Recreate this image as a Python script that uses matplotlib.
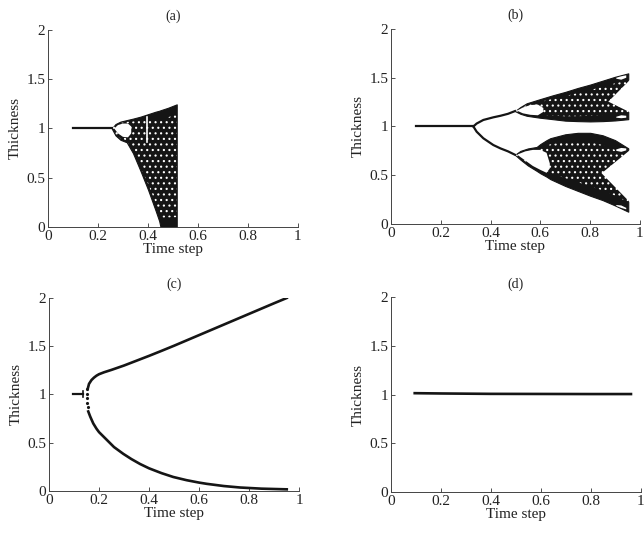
import numpy as np
import matplotlib
matplotlib.use("Agg")
import matplotlib.pyplot as plt

plt.rcParams["font.family"] = ["Liberation Serif", "DejaVu Serif"]
plt.rcParams["hatch.linewidth"] = 0.8

INK = "#151515"

# ---------------- (a) ----------------
a_fixed_x = [0.10, 0.255]
a_fixed_y = [1.0, 1.0]
a_band_x = [0.255, 0.27, 0.29, 0.315, 0.34, 0.37, 0.40, 0.43, 0.445, 0.45, 0.48, 0.515]
a_band_top = [1.0, 1.045, 1.07, 1.085, 1.10, 1.12, 1.145, 1.17, 1.18, 1.185, 1.21, 1.245]
a_band_bot = [1.0, 0.93, 0.885, 0.86, 0.75, 0.57, 0.38, 0.17, 0.06, 0.0, 0.0, 0.0]
a_hole_x = [0.265, 0.28, 0.30, 0.32, 0.333]
a_hole_top = [1.0, 1.035, 1.05, 1.05, 1.02]
a_hole_bot = [1.0, 0.95, 0.915, 0.91, 0.95]
a_window_x = [0.395, 0.395]
a_window_y = [0.86, 1.12]

# ---------------- (b) ----------------
b_fixed_x = [0.10, 0.331]
b_fixed_y = [1.0, 1.0]
b_p2_x = [0.331, 0.344, 0.371, 0.411, 0.44, 0.47, 0.498]
b_p2_up = [1.0, 1.03, 1.067, 1.094, 1.11, 1.13, 1.158]
b_p2_lo = [1.0, 0.947, 0.879, 0.81, 0.775, 0.745, 0.71]
b_up_x = [0.498, 0.52, 0.545, 0.598, 0.65, 0.70, 0.75, 0.80, 0.85, 0.90, 0.953]
b_up_top = [1.158, 1.20, 1.238, 1.28, 1.32, 1.355, 1.395, 1.43, 1.47, 1.51, 1.545]
b_up_bot = [1.158, 1.13, 1.11, 1.09, 1.075, 1.06, 1.055, 1.052, 1.055, 1.062, 1.075]
b_lo_x = [0.498, 0.52, 0.55, 0.585, 0.60, 0.625, 0.64, 0.70, 0.75, 0.80, 0.85, 0.90, 0.953]
b_lo_top = [0.71, 0.75, 0.775, 0.79, 0.82, 0.86, 0.88, 0.92, 0.935, 0.935, 0.91, 0.86, 0.776]
b_lo_bot = [0.71, 0.66, 0.60, 0.545, 0.52, 0.485, 0.46, 0.39, 0.34, 0.29, 0.245, 0.19, 0.126]
# white gaps inside the bands
b_up_bub_x = [0.508, 0.53, 0.56, 0.59, 0.612]
b_up_bub_top = [1.165, 1.195, 1.22, 1.225, 1.19]
b_up_bub_bot = [1.16, 1.135, 1.12, 1.115, 1.15]
b_lo_bub_x = [0.51, 0.54, 0.57, 0.60, 0.625, 0.638]
b_lo_bub_top = [0.715, 0.745, 0.76, 0.76, 0.73, 0.62]
b_lo_bub_bot = [0.705, 0.65, 0.595, 0.555, 0.525, 0.57]
b_up_notch_x = [0.873, 0.98, 0.98]
b_up_notch_y = [1.255, 1.53, 1.12]
b_lo_notch_x = [0.846, 0.98, 0.98]
b_lo_notch_y = [0.52, 0.80, 0.17]
b_tip_x = [0.905, 0.925, 0.945]
b_tip1_top = [1.50, 1.515, 1.525]
b_tip1_bot = [1.49, 1.48, 1.50]
b_tip2_top = [1.10, 1.115, 1.11]
b_tip2_bot = [1.09, 1.085, 1.09]
b_tip3_top = [0.765, 0.78, 0.775]
b_tip3_bot = [0.75, 0.74, 0.755]
b_tip4_top = [0.195, 0.19, 0.165]
b_tip4_bot = [0.185, 0.165, 0.15]

# ---------------- (c) ----------------
c_fixed_x = [0.097, 0.137]
c_fixed_y = [1.0, 1.0]
c_tick_x = [0.135, 0.135]
c_tick_y = [0.97, 1.04]
c_dots_x = [0.150, 0.150, 0.151, 0.152, 0.154]
c_dots_y = [1.06, 1.01, 0.96, 0.91, 0.87]
c_up_x = [0.155, 0.16, 0.17, 0.18, 0.19, 0.20, 0.22, 0.25, 0.30, 0.35, 0.40,
          0.45, 0.50, 0.60, 0.70, 0.80, 0.90, 0.951]
c_up_y = [1.06, 1.11, 1.15, 1.175, 1.195, 1.21, 1.23, 1.255, 1.30, 1.35, 1.40,
          1.452, 1.505, 1.615, 1.725, 1.835, 1.945, 2.0]
c_lo_x = [0.157, 0.165, 0.177, 0.19, 0.20, 0.231, 0.26, 0.297, 0.33, 0.364, 0.40,
          0.45, 0.497, 0.55, 0.60, 0.631, 0.70, 0.764, 0.85, 0.951]
c_lo_y = [0.824, 0.77, 0.70, 0.645, 0.61, 0.53, 0.455, 0.385, 0.33, 0.28, 0.235,
          0.185, 0.145, 0.112, 0.087, 0.074, 0.051, 0.036, 0.024, 0.017]

# ---------------- (d) ----------------
d_x = [0.095, 0.20, 0.40, 0.60, 0.80, 0.96]
d_y = [1.015, 1.012, 1.008, 1.007, 1.006, 1.006]

fig = plt.figure(figsize=(6.44, 5.37), dpi=100)
axes = {
    "(a)": fig.add_axes([0.0745, 0.5773, 0.3882, 0.3669]),
    "(b)": fig.add_axes([0.6071, 0.5829, 0.3866, 0.3631]),
    "(c)": fig.add_axes([0.0761, 0.0857, 0.3882, 0.3594]),
    "(d)": fig.add_axes([0.6071, 0.0838, 0.3882, 0.3626]),
}


def band(ax, x, top, bot, edge=0.15):
    # dense chaotic cloud: solid ink, white speckles away from the edges
    x, top, bot = np.array(x), np.array(top), np.array(bot)
    ax.fill_between(x, bot, top, facecolor=INK, edgecolor=INK, lw=0.8)
    h = top - bot
    ax.fill_between(x, bot + edge * h, top - edge * h, facecolor="none",
                    edgecolor="white", hatch="...", lw=0)


def hole(ax, x, top, bot):
    ax.fill_between(x, bot, top, facecolor="white", edgecolor="none", lw=0)


for name, ax in axes.items():
    ax.set_xlim(0, 1)
    ax.set_ylim(0, 2)
    ax.set_xticks([0, 0.2, 0.4, 0.6, 0.8, 1])
    ax.set_xticklabels(["0", "0.2", "0.4", "0.6", "0.8", "1"])
    ax.set_yticks([0, 0.5, 1, 1.5, 2])
    ax.set_yticklabels(["0", "0.5", "1", "1.5", "2"])
    ax.tick_params(direction="in", length=3, width=0.6, labelsize=11,
                   pad=2, colors="#333333", labelcolor="#222222")
    for s in ["top", "right"]:
        ax.spines[s].set_visible(False)
    for s in ["left", "bottom"]:
        ax.spines[s].set_linewidth(0.7)
        ax.spines[s].set_color("#444444")
    ax.set_xlabel("Time step", fontsize=11, labelpad=0, color="#222222")
    ax.set_ylabel("Thickness", fontsize=11, labelpad=3, color="#222222")
    ax.set_title(name, fontsize=10, pad=7, color="#222222")

# (a)
ax = axes["(a)"]
ax.plot(a_fixed_x, a_fixed_y, color=INK, lw=1.6)
band(ax, a_band_x, a_band_top, a_band_bot, edge=0.08)
hole(ax, a_hole_x, a_hole_top, a_hole_bot)
ax.plot(a_window_x, a_window_y, color="white", lw=1.2)

# (b)
ax = axes["(b)"]
ax.plot(b_fixed_x, b_fixed_y, color=INK, lw=1.6)
ax.plot(b_p2_x, b_p2_up, color=INK, lw=1.6)
ax.plot(b_p2_x, b_p2_lo, color=INK, lw=1.6)
band(ax, b_up_x, b_up_top, b_up_bot)
band(ax, b_lo_x, b_lo_top, b_lo_bot)
hole(ax, b_up_bub_x, b_up_bub_top, b_up_bub_bot)
hole(ax, b_lo_bub_x, b_lo_bub_top, b_lo_bub_bot)
ax.fill(b_up_notch_x, b_up_notch_y, color="white", lw=0)
ax.fill(b_lo_notch_x, b_lo_notch_y, color="white", lw=0)
for t, b in [(b_tip1_top, b_tip1_bot), (b_tip2_top, b_tip2_bot),
             (b_tip3_top, b_tip3_bot), (b_tip4_top, b_tip4_bot)]:
    hole(ax, b_tip_x, t, b)

# (c)
ax = axes["(c)"]
ax.plot(c_fixed_x, c_fixed_y, color=INK, lw=1.6)
ax.plot(c_tick_x, c_tick_y, color=INK, lw=1.2)
ax.plot(c_dots_x, c_dots_y, ".", color=INK, ms=2.5)
ax.plot(c_up_x, c_up_y, color=INK, lw=1.9)
ax.plot(c_lo_x, c_lo_y, color=INK, lw=1.9)

# (d)
ax = axes["(d)"]
ax.plot(d_x, d_y, color=INK, lw=1.9)

fig.savefig("out.png", dpi=100)
